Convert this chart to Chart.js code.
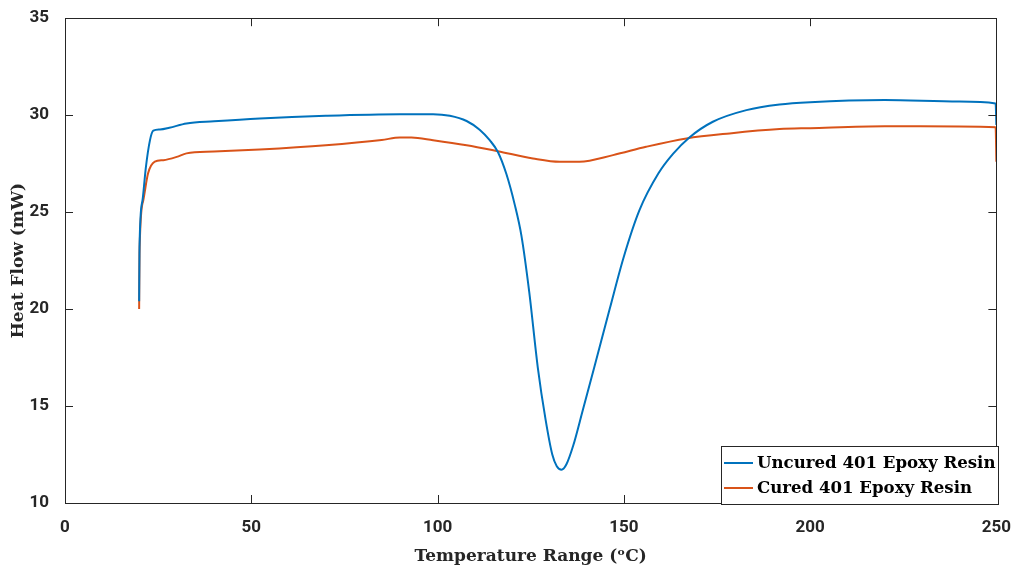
<!DOCTYPE html>
<html>
<head>
<meta charset="utf-8">
<script src="https://cdn.jsdelivr.net/npm/chart.js@4.4.1/dist/chart.umd.min.js"></script>
<style>
html,body{margin:0;padding:0;background:#fff;}
#wrap{width:1018px;height:570px;position:relative;}
</style>
</head>
<body>
<div id="wrap"><canvas id="c" width="1018" height="570"></canvas></div>
<script>
const seriesLabels = ['Uncured 401 Epoxy Resin', 'Cured 401 Epoxy Resin'];
const seriesColors = ['#0072BD', '#D95319'];

const uncuredX = [19.9, 20.0, 20.8, 21.7, 22.8, 23.7, 25.5, 28, 32.6, 40, 52.3, 70, 89.9, 98.8, 103.3, 107.8, 111.3, 114, 116.2, 118.5, 120.7, 122.5, 124.6, 126.9, 129.0, 130.8, 132.0, 133.3, 134.6, 136.4, 139.0, 142.0, 146.2, 150.0, 154.2, 159.3, 163.2, 167.6, 173.9, 182.9, 191.8, 200, 220, 240, 249.8, 250];
const uncuredY = [20.4, 23.2, 25.6, 27.3, 28.7, 29.2, 29.26, 29.35, 29.57, 29.68, 29.83, 29.97, 30.05, 30.05, 29.97, 29.7, 29.25, 28.71, 28.1, 26.95, 25.4, 23.8, 20.9, 17.0, 14.3, 12.5, 11.9, 11.72, 12.0, 12.95, 14.8, 16.95, 20.0, 22.7, 25.1, 27.0, 28.0, 28.85, 29.66, 30.26, 30.55, 30.67, 30.78, 30.7, 30.6, 29.5];

const curedX = [19.9, 20.0, 21.0, 22.3, 24.1, 26.4, 30, 32.6, 40, 52.3, 70, 85, 89.9, 93, 98.8, 107.8, 116.2, 125.6, 132.8, 138.1, 147.1, 156, 166.8, 178.4, 191.8, 200, 220, 240, 249.8, 250];
const curedY = [20.0, 22.9, 25.6, 27.0, 27.6, 27.68, 27.85, 28.03, 28.12, 28.23, 28.45, 28.72, 28.85, 28.85, 28.71, 28.45, 28.14, 27.77, 27.6, 27.6, 27.94, 28.37, 28.8, 29.06, 29.28, 29.33, 29.43, 29.42, 29.38, 27.6];

const xTicks = [0, 50, 100, 150, 200, 250];
const yTicks = [10, 15, 20, 25, 30, 35];

function pts(xs, ys){ return xs.map((x,i)=>({x:x, y:ys[i]})); }

const AXIS_COLOR = '#262626';
const tickFont = {family: 'Roboto', weight: 'bold', size: 17};
const titleFont = {family: 'DejaVu Serif', weight: 'bold', size: 17};

const framePlugin = {
  id: 'frame',
  afterDatasetsDraw(chart){
    const ctx = chart.ctx;
    const a = chart.chartArea;
    const xs = chart.scales.x, ys = chart.scales.y;
    ctx.save();
    ctx.strokeStyle = AXIS_COLOR;
    ctx.lineWidth = 1;
    ctx.strokeRect(Math.round(a.left)+0.5, Math.round(a.top)+0.5, Math.round(a.right-a.left), Math.round(a.bottom-a.top));
    const tl = 8;
    ctx.beginPath();
    xTicks.forEach(v=>{
      const px = Math.round(xs.getPixelForValue(v))+0.5;
      ctx.moveTo(px, a.bottom); ctx.lineTo(px, a.bottom-tl);
      ctx.moveTo(px, a.top); ctx.lineTo(px, a.top+tl);
    });
    yTicks.forEach(v=>{
      const py = Math.round(ys.getPixelForValue(v))+0.5;
      ctx.moveTo(a.left, py); ctx.lineTo(a.left+tl, py);
      ctx.moveTo(a.right, py); ctx.lineTo(a.right-tl, py);
    });
    ctx.stroke();

    // legend
    const bx = 721.5, by = 446.5, bw = 277, bh = 58;
    ctx.fillStyle = '#fff';
    ctx.fillRect(bx, by, bw, bh);
    ctx.strokeStyle = AXIS_COLOR;
    ctx.strokeRect(bx, by, bw, bh);
    ctx.font = 'bold 16.6px "DejaVu Serif"';
    ctx.textBaseline = 'middle';
    ctx.textAlign = 'left';
    const rows = [463, 488];
    chart.data.datasets.forEach((ds,i)=>{
      ctx.strokeStyle = ds.borderColor;
      ctx.lineWidth = 2;
      ctx.beginPath();
      ctx.moveTo(724, rows[i]); ctx.lineTo(753, rows[i]);
      ctx.stroke();
      ctx.fillStyle = '#000';
      ctx.fillText(ds.label, 757, rows[i]+1);
    });
    ctx.restore();
  }
};

new Chart(document.getElementById('c'), {
  type: 'line',
  data: {
    datasets: [
      {label: seriesLabels[0], data: pts(uncuredX, uncuredY), borderColor: seriesColors[0], backgroundColor: seriesColors[0], borderWidth: 2, pointRadius: 0, cubicInterpolationMode: 'monotone', fill: false},
      {label: seriesLabels[1], data: pts(curedX, curedY), borderColor: seriesColors[1], backgroundColor: seriesColors[1], borderWidth: 2, pointRadius: 0, cubicInterpolationMode: 'monotone', fill: false}
    ]
  },
  options: {
    responsive: false,
    animation: false,
    layout: {padding: {left: 0, top: 18, right: 15, bottom: 0}},
    plugins: {legend: {display: false}, tooltip: {enabled: false}},
    scales: {
      x: {
        type: 'linear', min: 0, max: 250,
        afterBuildTicks: s => { s.ticks = xTicks.map(v=>({value:v})); },
        afterFit: s => { s.height = 67; },
        grid: {display: false}, border: {display: false},
        ticks: {color: AXIS_COLOR, font: tickFont, padding: 7, maxRotation: 0},
        title: {display: true, text: 'Temperature Range (\u1D52C)', color: AXIS_COLOR, font: titleFont, padding: {top: 0, bottom: 3}}
      },
      y: {
        type: 'linear', min: 10, max: 35,
        afterBuildTicks: s => { s.ticks = yTicks.map(v=>({value:v})); },
        afterFit: s => { s.width = 65; },
        grid: {display: false}, border: {display: false},
        ticks: {color: AXIS_COLOR, font: tickFont, padding: 8},
        title: {display: true, text: 'Heat Flow (mW)', color: AXIS_COLOR, font: titleFont, padding: {top: 8, bottom: 0}}
      }
    }
  },
  plugins: [framePlugin]
});
</script>
</body>
</html>
